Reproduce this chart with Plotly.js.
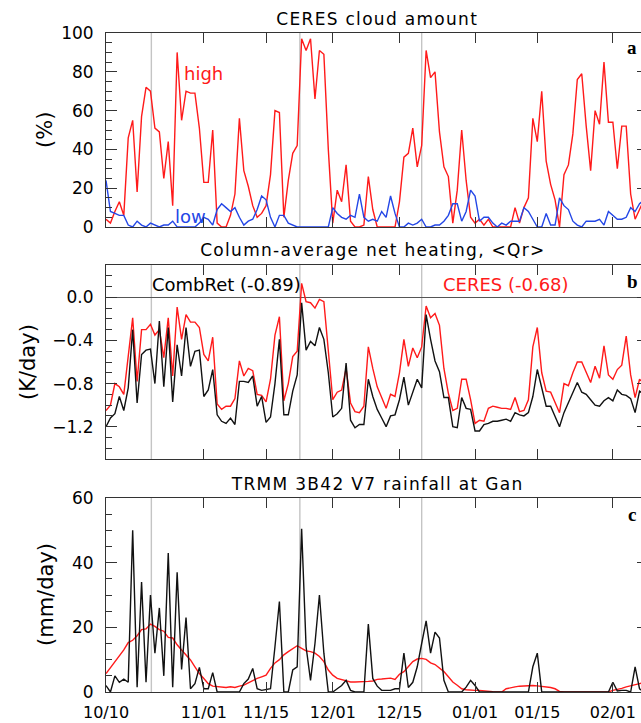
<!DOCTYPE html>
<html>
<head>
<meta charset="utf-8">
<script src="https://cdn.plot.ly/plotly-3.0.1.min.js"></script>
<style>
  html, body { margin: 0; padding: 0; background: #fff; overflow: hidden; }
  #chart { width: 648px; height: 723px; }
  .annotation[data-index="0"] text,
  .annotation[data-index="1"] text,
  .annotation[data-index="2"] text { letter-spacing: 1.3px; }
</style>
</head>
<body>
<div id="chart"></div>
<script>
// ---- data (daily values, day 0 = 10/10) ----
const tickDays = [0, 22, 36, 51, 66, 83, 97, 114];
const tickLabels = ['10/10', '11/01', '11/15', '12/01', '12/15', '01/01', '01/15', '02/01'];
const eventDays = [10.2, 43.6, 71.0];

const highCloud = [4,2,8,13,6,46,55,18,57,72,
  70,51,49,25,44,11,90,55,70,69,
  69,51,23,23,50,2,0,0,6,17,
  56,29,21,11,5,7,11,27,60,59,
  5,24,38,42,97,91,97,66,91,89,
  40,2,19,13,32,3,0,0,1,26,
  9,0,0,0,0,0,13,36,38,51,
  31,42,91,77,80,49,31,26,2,19,
  50,24,5,2,4,1,4,0,0,0,
  0,0,10,2,10,15,56,44,70,34,
  22,14,0,27,32,48,76,79,52,29,
  60,53,85,54,54,30,52,52,17,4,
  9,14];

const lowCloud = [24,8,7,6,6,1,0,3,1,0,
  2,1,0,1,1,3,0,0,0,0,
  0,2,5,4,1,9,12,10,8,10,
  5,1,3,4,9,16,14,5,0,6,
  6,2,1,0,0,0,0,0,0,0,
  0,10,7,5,4,6,5,17,5,3,
  4,3,8,5,16,7,0,0,2,1,
  2,4,0,0,1,1,3,6,12,12,
  3,8,19,16,3,5,5,2,0,2,
  1,3,3,3,10,8,4,0,0,7,
  1,1,15,11,9,3,1,0,3,3,
  3,4,1,8,6,4,4,5,10,8,
  12,14];

const qrCeres = [-1.05,-1.00,-0.80,-0.83,-0.90,-0.52,-0.19,-0.78,-0.30,-0.30,
  -0.25,-0.35,-0.30,-0.56,-0.19,-0.73,-0.09,-0.39,-0.16,-0.23,
  -0.23,-0.28,-0.53,-0.59,-0.37,-0.99,-1.04,-1.01,-1.01,-0.94,
  -0.59,-0.73,-0.66,-0.68,-0.90,-0.91,-0.97,-0.76,-0.35,-0.18,
  -0.96,-0.80,-0.55,-0.50,0.13,-0.04,-0.05,-0.10,-0.02,-0.04,
  -0.46,-0.95,-0.88,-0.86,-0.66,-0.98,-1.06,-1.07,-1.01,-0.46,
  -0.66,-0.83,-0.93,-1.03,-0.90,-0.92,-0.70,-0.39,-0.64,-0.47,
  -0.56,-0.46,-0.08,-0.19,-0.15,-0.26,-0.66,-0.89,-1.05,-1.03,
  -0.76,-0.76,-0.95,-1.17,-1.14,-1.15,-1.03,-1.01,-1.02,-1.03,
  -1.03,-1.04,-0.93,-1.06,-1.05,-0.95,-0.46,-0.28,-0.70,-0.87,
  -0.88,-0.98,-1.07,-0.80,-0.82,-0.70,-0.60,-0.60,-0.70,-0.79,
  -0.64,-0.75,-0.45,-0.72,-0.76,-0.67,-0.63,-0.36,-0.72,-0.93,
  -0.76,-0.80];

const qrCombRet = [-1.20,-1.12,-1.08,-0.92,-1.05,-0.84,-0.30,-0.98,-0.53,-0.49,
  -0.48,-0.80,-0.22,-0.83,-0.28,-0.97,-0.44,-0.73,-0.28,-0.64,
  -0.50,-0.49,-0.92,-0.86,-0.67,-1.09,-1.15,-1.17,-1.12,-1.18,
  -0.78,-0.78,-0.79,-0.73,-1.01,-0.92,-1.16,-1.11,-0.80,-0.39,
  -1.09,-1.09,-0.87,-0.72,-0.05,-0.49,-0.41,-0.45,-0.28,-0.39,
  -0.70,-1.11,-1.08,-1.03,-0.61,-1.14,-1.21,-1.18,-1.18,-0.76,
  -0.92,-1.04,-1.12,-1.20,-1.10,-1.09,-0.95,-0.74,-1.00,-0.87,
  -0.76,-0.84,-0.16,-0.39,-0.59,-0.69,-0.93,-0.93,-1.20,-1.21,
  -0.93,-1.03,-1.04,-1.24,-1.24,-1.18,-1.17,-1.15,-1.15,-1.14,
  -1.13,-1.15,-1.07,-1.09,-1.10,-1.07,-0.92,-0.67,-0.83,-1.01,
  -1.01,-1.11,-1.20,-1.07,-0.98,-0.89,-0.79,-0.88,-0.90,-0.95,
  -1.00,-1.01,-0.96,-0.93,-0.96,-0.86,-0.90,-0.91,-0.94,-1.07,
  -0.87,-0.90];

const rainTrmm = [2,0,5,3,4,3,50,1.5,34,3,
  30,12,26,5,43,1.5,37,7,23,1,
  2.6,7.6,1,1,6,0,0,0,0,0,
  0,2.6,4,7.3,1,0.5,0.7,1,14,28,
  0,0,6.8,7.8,50.5,14,3.6,15,30,12,
  0,0,1,2,3.6,0.5,0,0,0,21,
  4.2,1.8,0.5,0.5,0.5,1,1,12,1.4,3,
  7.8,15,22,12,18.5,16.7,3.6,0,0,0,
  0,1.5,3.6,2,0,0,0,0,0,0,
  0,0,0,0,0,0,7.8,12,0,0,
  0,0,0,0,0,0,0,0,0,0,
  0,0,0,0,3,0.3,0.5,0.5,0,7.8,
  1,0];

const rainSmooth = [5.7,7.5,9.4,11,13,15.3,16,17.4,19.3,19.5,
  21,20.3,19.3,18.8,16.9,16.7,14.6,13,11.5,9.9,
  7.8,5.7,4.2,2.6,1.8,1.6,1.6,1.4,1.6,1.4,
  1.8,2.1,2.8,3.6,4.2,4.7,5.2,7.3,9,10,
  11.5,12.5,13.5,14.3,13.5,12.7,12.5,12,11,9.4,
  6.8,5.2,4.2,3.9,3.4,3.1,3.1,3.1,3.1,3.3,
  3.4,3.9,4.0,4.2,4.3,3.9,5.5,6.3,7.8,9.4,
  10.2,10.4,10.1,9,8.5,7.5,6.3,4.7,3.1,2.1,
  1,0.7,0.5,0.5,0.5,0.3,0.2,0.1,0,0,
  1,1.4,1.6,1.8,1.9,2,2,1.9,1.8,1.6,
  1.4,1,0.2,0,0,0,0,0,0,0,
  0,0,0,0,0.5,0.7,1.1,1.6,2,2.3,
  2.6,2.9];

const days = highCloud.map((_, i) => i);

// ---- styling ----
const RED = '#ff1a1a', BLUE = '#2346e6', BLACK = '#111111', AX = '#333333';
const FONT = 'DejaVu Sans, Verdana, sans-serif';
const W = 648, H = 723, ML = 106, MR = 0, MT = 33, MB = 31;
const xp = px => (px - ML) / (W - ML - MR);
const yp = py => (H - MB - py) / (H - MT - MB);

function line(x, y, color, xa, ya) {
  return {x: x, y: y, xaxis: xa, yaxis: ya, type: 'scatter', mode: 'lines',
          line: {color: color, width: 1.4}, hoverinfo: 'skip'};
}
const traces = [
  line(days, highCloud, RED, 'x', 'y'),
  line(days, lowCloud, BLUE, 'x', 'y'),
  line(days, qrCeres, RED, 'x2', 'y2'),
  line(days, qrCombRet, BLACK, 'x2', 'y2'),
  line(days, rainSmooth, RED, 'x3', 'y3'),
  line(days, rainTrmm, BLACK, 'x3', 'y3')
];

const xRange = [0, 121.9];
function xAxis(anchor, labels) {
  return {anchor: anchor, range: xRange, tickvals: tickDays, ticktext: tickLabels,
    ticks: 'inside', ticklen: 10, tickwidth: 1, tickcolor: AX,
    showline: true, linecolor: AX, linewidth: 1, mirror: 'ticks',
    showgrid: false, zeroline: false, showticklabels: labels,
    tickfont: {family: FONT, size: 16, color: '#000'}, ticklabelstandoff: 6,
    fixedrange: true};
}
function yAxis(anchor, domain, range, dtick, minor, fmt) {
  return {anchor: anchor, domain: domain, range: range, tick0: 0, dtick: dtick,
    ticks: 'inside', ticklen: 11, tickwidth: 1, tickcolor: AX,
    minor: {dtick: minor, tick0: 0, ticks: 'inside', ticklen: 6, tickcolor: AX, showgrid: false},
    showline: true, linecolor: AX, linewidth: 1, mirror: 'ticks',
    showgrid: false, zeroline: false, tickformat: fmt,
    tickfont: {family: FONT, size: 17, color: '#000'}, ticklabelstandoff: 8,
    fixedrange: true};
}

const shapes = [];
[['x', 'y'], ['x2', 'y2'], ['x3', 'y3']].forEach(([xa, ya]) => {
  eventDays.forEach(d => shapes.push({type: 'line', xref: xa, yref: ya + ' domain',
    x0: d, x1: d, y0: 0, y1: 1, layer: 'below', line: {color: '#c4c4c4', width: 1.4}}));
});

function txt(text, px, py, size, color, extra) {
  return Object.assign({text: text, xref: 'paper', yref: 'paper', x: xp(px), y: yp(py),
    xanchor: 'center', yanchor: 'middle', showarrow: false,
    font: {family: FONT, size: size, color: color}}, extra || {});
}
const SERIF = 'Liberation Serif, DejaVu Serif, serif';
const annotations = [
  txt('CERES cloud amount', 377, 19, 17, '#000'),
  txt('Column-average net heating, &lt;Qr&gt;', 373, 250, 17, '#000'),
  txt('TRMM 3B42 V7 rainfall at Gan', 377, 484, 17, '#000'),
  txt('(%)', 45, 130, 21, '#000', {textangle: -90}),
  txt('(K/day)', 28, 362, 21, '#000', {textangle: -90}),
  txt('(mm/day)', 46, 595, 21, '#000', {textangle: -90}),
  txt('high', 203.5, 73, 18, RED),
  txt('low', 190.5, 216, 18, BLUE),
  txt('CombRet (-0.89)', 150, 284, 18, '#000', {xanchor: 'left'}),
  txt('CERES (-0.68)', 441, 284, 18, RED, {xanchor: 'left'}),
  txt('<b>a</b>', 632, 48, 19, '#000', {font: {family: SERIF, size: 19, color: '#000'}}),
  txt('<b>b</b>', 632, 281, 19, '#000', {font: {family: SERIF, size: 19, color: '#000'}}),
  txt('<b>c</b>', 632, 514, 19, '#000', {font: {family: SERIF, size: 19, color: '#000'}})
];

const layout = {
  width: W, height: H,
  margin: {l: ML, r: MR, t: MT, b: MB, pad: 0},
  paper_bgcolor: '#fff', plot_bgcolor: 'rgba(0,0,0,0)',
  showlegend: false,
  font: {family: FONT, color: '#000'},
  xaxis: xAxis('y', false),
  xaxis2: Object.assign(xAxis('y2', false), {matches: 'x'}),
  xaxis3: Object.assign(xAxis('y3', true), {matches: 'x'}),
  yaxis: yAxis('x', [yp(227), 1], [0, 100], 20, 5, 'd'),
  yaxis2: Object.assign(yAxis('x2', [yp(459), yp(265)], [-1.5, 0.3], 0.4, 0.1, '.1f'),
    {zeroline: true, zerolinecolor: '#555', zerolinewidth: 1}),
  yaxis3: yAxis('x3', [0, yp(498)], [0, 60], 20, 5, 'd'),
  shapes: shapes,
  annotations: annotations
};

Plotly.newPlot('chart', traces, layout, {staticPlot: true, displayModeBar: false});
</script>
</body>
</html>
